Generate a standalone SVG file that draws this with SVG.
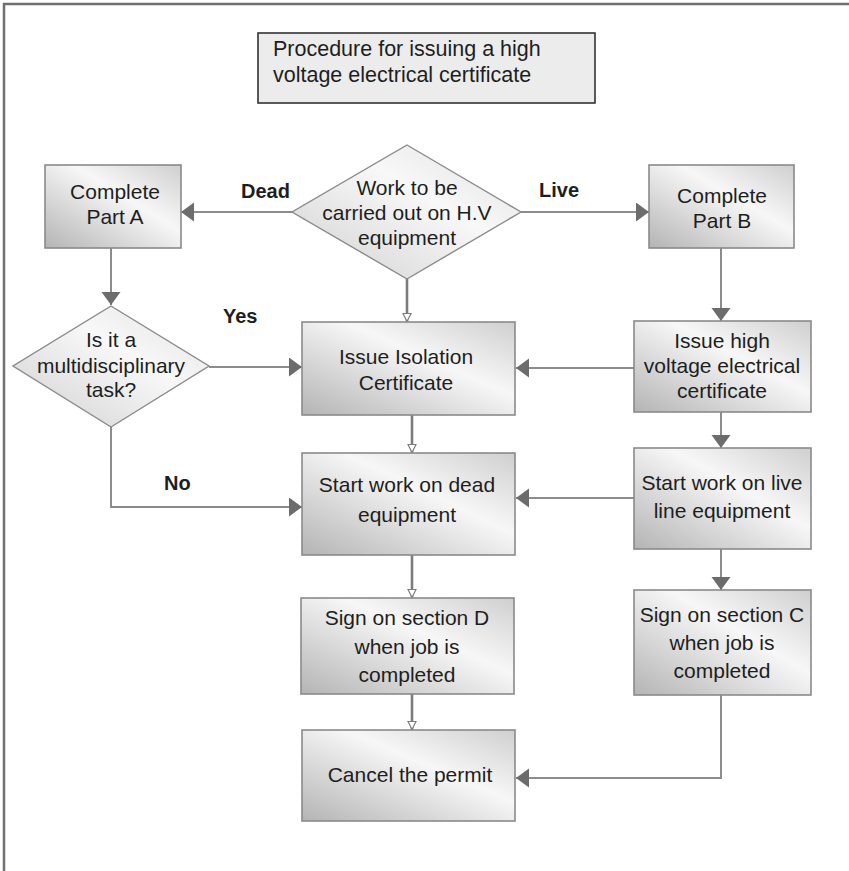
<svg xmlns="http://www.w3.org/2000/svg" width="849" height="871" viewBox="0 0 849 871">
<style>
.t{font-family:"Liberation Sans",Arial,sans-serif;font-size:21px;fill:#1e1e1e;text-anchor:middle}
.lbl{font-family:"Liberation Sans",Arial,sans-serif;font-size:20px;font-weight:bold;fill:#1e1e1e}
.box{fill:url(#g);stroke:#8a8a8a;stroke-width:1.6}
.dia{fill:url(#gd);stroke:#8a8a8a;stroke-width:1.4}
.c{fill:none;stroke:#8c8c8c;stroke-width:2;marker-end:url(#ah)}
.h{fill:none;stroke:#7c7c7c;stroke-width:2.6;marker-end:url(#oh)}
</style>
<defs>
<linearGradient id="g" x1="0" y1="1" x2="1" y2="0">
<stop offset="0" stop-color="#b4b4b4"/>
<stop offset="0.6" stop-color="#f7f7f7"/>
<stop offset="1" stop-color="#cfcfcf"/>
</linearGradient>
<linearGradient id="gd" x1="0" y1="1" x2="1" y2="0">
<stop offset="0" stop-color="#d0d0d0"/>
<stop offset="0.6" stop-color="#f8f8f8"/>
<stop offset="1" stop-color="#e0e0e0"/>
</linearGradient>
<marker id="ah" markerUnits="userSpaceOnUse" markerWidth="14" markerHeight="20" refX="13" refY="9.5" orient="auto">
<path d="M0,0 L13,9.5 L0,19 z" fill="#6c6c6c"/>
</marker>
<marker id="oh" markerUnits="userSpaceOnUse" markerWidth="12" markerHeight="12" refX="9.5" refY="5" orient="auto">
<path d="M1,1 L9,5 L1,9 z" fill="#fff" stroke="#7c7c7c" stroke-width="1.2"/>
</marker>
</defs>
<rect width="849" height="871" fill="#fff"/>
<path d="M4,871 V4 H849" fill="none" stroke="#707070" stroke-width="2.5"/>

<g id="title">
<rect x="258" y="33" width="337" height="70" fill="#ececec" stroke="#333" stroke-width="1.6"/>
<text class="t" x="273" y="56" style="text-anchor:start;font-size:21.5px">Procedure for issuing a high</text>
<text class="t" x="273" y="82" style="text-anchor:start;font-size:21.5px">voltage electrical certificate</text>
</g>

<g id="connectors">
<path class="c" d="M292,212 H181"/>
<path class="c" d="M521,212 H649"/>
<path class="c" d="M111,248 V305"/>
<path class="c" d="M721,248 V321"/>
<path class="h" d="M407,279 V322"/>
<path class="c" d="M209,367 H302"/>
<path class="c" d="M634,368 H516"/>
<path class="h" d="M412,415 V453"/>
<path class="c" d="M721,412 V448"/>
<path class="c" d="M111,427 V507 H302"/>
<path class="c" d="M634,498 H516"/>
<path class="c" d="M721,549 V590"/>
<path class="h" d="M412,555 V598"/>
<path class="h" d="M412,687 V730"/>
<path class="c" d="M721,695 V778 H516"/>
</g>

<g id="labels">
<text class="lbl" x="241" y="198">Dead</text>
<text class="lbl" x="539" y="197">Live</text>
<text class="lbl" x="223" y="323">Yes</text>
<text class="lbl" x="164" y="490">No</text>
</g>

<g id="hv-decision">
<polygon class="dia" points="407,145 521,212 407,279 292,212"/>
<text class="t" x="407" y="195">Work to be</text>
<text class="t" x="407" y="220">carried out on H.V</text>
<text class="t" x="407" y="245">equipment</text>
</g>

<g id="part-a">
<rect class="box" x="45" y="165" width="136" height="83"/>
<text class="t" x="115" y="199">Complete</text>
<text class="t" x="115" y="224">Part A</text>
</g>

<g id="part-b">
<rect class="box" x="649" y="165" width="145" height="83"/>
<text class="t" x="722" y="203">Complete</text>
<text class="t" x="722" y="228">Part B</text>
</g>

<g id="multi-decision">
<polygon class="dia" points="111,306 209,366 111,427 13,366"/>
<text class="t" x="111" y="347">Is it a</text>
<text class="t" x="111" y="373">multidisciplinary</text>
<text class="t" x="111" y="397">task?</text>
</g>

<g id="isolation">
<rect class="box" x="302" y="322" width="213" height="93"/>
<text class="t" x="406" y="364">Issue Isolation</text>
<text class="t" x="406" y="390">Certificate</text>
</g>

<g id="hv-cert">
<rect class="box" x="634" y="321" width="177" height="91"/>
<text class="t" x="722" y="348">Issue high</text>
<text class="t" x="722" y="373">voltage electrical</text>
<text class="t" x="722" y="398">certificate</text>
</g>

<g id="start-dead">
<rect class="box" x="302" y="453" width="213" height="102"/>
<text class="t" x="407" y="492">Start work on dead</text>
<text class="t" x="407" y="522">equipment</text>
</g>

<g id="start-live">
<rect class="box" x="634" y="448" width="177" height="101"/>
<text class="t" x="722" y="490">Start work on live</text>
<text class="t" x="722" y="518">line equipment</text>
</g>

<g id="sign-d">
<rect class="box" x="301" y="598" width="213" height="96"/>
<text class="t" x="407" y="625">Sign on section D</text>
<text class="t" x="407" y="654">when job is</text>
<text class="t" x="407" y="682">completed</text>
</g>

<g id="sign-c">
<rect class="box" x="634" y="590" width="177" height="105"/>
<text class="t" x="722" y="622">Sign on section C</text>
<text class="t" x="722" y="650">when job is</text>
<text class="t" x="722" y="678">completed</text>
</g>

<g id="cancel">
<rect class="box" x="302" y="730" width="213" height="91"/>
<text class="t" x="410" y="782">Cancel the permit</text>
</g>
</svg>
